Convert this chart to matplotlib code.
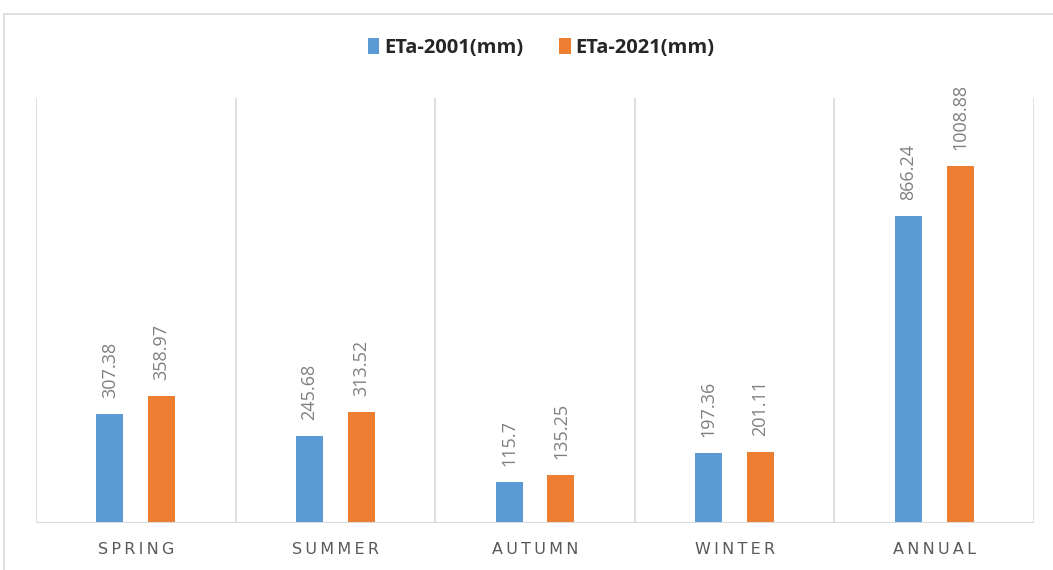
import numpy as np
import matplotlib.pyplot as plt
from matplotlib.patches import Rectangle

## data
seasons = ['SPRING', 'SUMMER', 'AUTUMN', 'WINTER', 'ANNUAL']
eta_2001 = [307.38, 245.68, 115.7, 197.36, 866.24]
eta_2021 = [358.97, 313.52, 135.25, 201.11, 1008.88]
labels_2001 = ['307.38', '245.68', '115.7', '197.36', '866.24']
labels_2021 = ['358.97', '313.52', '135.25', '201.11', '1008.88']

blue = '#5b9bd5'
orange = '#ed7d31'
grid_col = '#d9d9d9'
text_col = '#595959'

fig = plt.figure(figsize=(10.53, 5.70), dpi=100)
ax = fig.add_axes([36/1053, 1 - 523/570, (1034 - 36)/1053, (523 - 98)/570])

## outer chart frame (cut off at right and bottom)
fig.patches.append(Rectangle((4/1053, -0.1), 1.2, 1 - 14/570 + 0.1,
                             transform=fig.transFigure, fill=False,
                             edgecolor=grid_col, linewidth=1.2))

x = np.arange(len(seasons))
w = 0.135
off = 0.13
b1 = ax.bar(x - off, eta_2001, w, color=blue, label='ETa-2001(mm)')
b2 = ax.bar(x + off, eta_2021, w, color=orange, label='ETa-2021(mm)')

## value labels, rotated
for bars, labs in [(b1, labels_2001), (b2, labels_2021)]:
    for r, lab in zip(bars, labs):
        ax.text(r.get_x() + r.get_width()/2, r.get_height() + 45, lab,
                rotation=90, ha='center', va='bottom', fontsize=13,
                color='#7f7f7f', family=['Open Sans', 'DejaVu Sans'])

ax.set_xlim(-0.5, len(seasons) - 0.5)
ax.set_ylim(0, 1200)

## vertical separators between categories
for xv in np.arange(-0.5, len(seasons), 1):
    ax.axvline(xv, color=grid_col, linewidth=1.2, zorder=0)
ax.axhline(0, color=grid_col, linewidth=1.5, zorder=3)

for s in ax.spines.values():
    s.set_visible(False)
ax.set_yticks([])
ax.set_xticks(x)
ax.set_xticklabels(['\u2009'.join(s) for s in seasons], fontsize=11.5,
                   color=text_col)
ax.tick_params(axis='x', length=0, pad=14)

leg = fig.legend(loc='center', bbox_to_anchor=(0.514, 1 - 48/570), ncol=2,
                 frameon=False, handlelength=0.55, handleheight=0.8,
                 handletextpad=0.25, columnspacing=1.8,
                 prop={'family': ['Open Sans', 'DejaVu Sans'],
                       'weight': 'bold', 'size': 14.5})
for t in leg.get_texts():
    t.set_color('#262626')

fig.savefig('out.png', dpi=100)
